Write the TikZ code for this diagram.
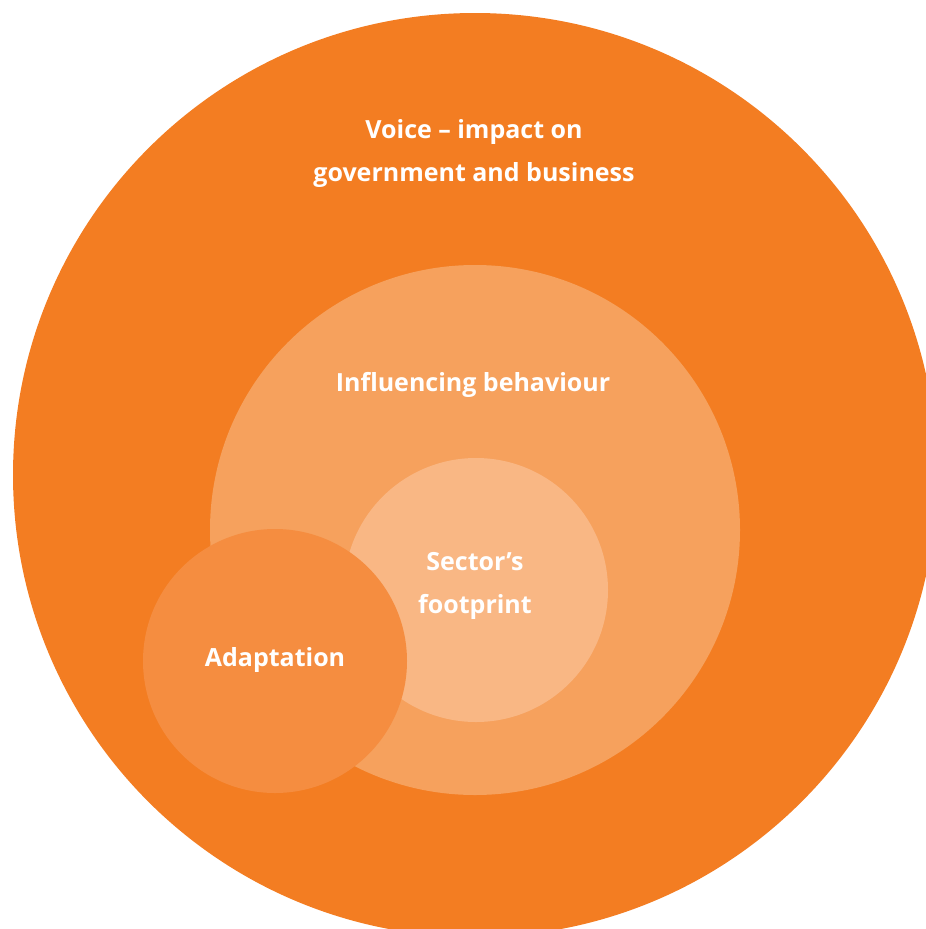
\documentclass[tikz,border=0pt]{standalone}
\usepackage{fontspec}
\setmainfont{Open Sans}
\usetikzlibrary{positioning}
\definecolor{custom-dark}{RGB}{243, 125, 34}
\definecolor{custom-mid}{RGB}{246, 161, 93}
\definecolor{custom-light}{RGB}{249, 183, 132}
\definecolor{custom-adapt}{RGB}{245, 141, 64}
\tikzset{
  ring/.style={circle, inner sep=0pt, draw=none},
  label text/.style={text=white, font=\fontsize{25}{43}\selectfont\bfseries, align=center, inner sep=0pt}
}

\begin{document}
\begin{tikzpicture}[x=1pt, y=-1pt]
\useasboundingbox (0,0) rectangle (926,929);
\clip (0,0) rectangle (926,929);
\node[ring, fill=custom-dark, minimum size=924pt] (voice) at (475,475) {};
\node[ring, fill=custom-mid, minimum size=530pt] (behaviour) at (475,530) {};
\node[ring, fill=custom-light, minimum size=264pt] (footprint) at (476,590) {};
\node[ring, fill=custom-adapt, minimum size=264pt] (adaptation) at (275,661) {};
\node[label text] (voicetext) at (474,154) {Voice – impact on\\government and business};
\node[label text] (behaviourtext) at (473,385) {Influencing behaviour};
\node[label text] (footprinttext) at (475,586) {Sector’s\\footprint};
\node[label text] (adaptationtext) at (275,660) {Adaptation};
\end{tikzpicture}
\end{document}
